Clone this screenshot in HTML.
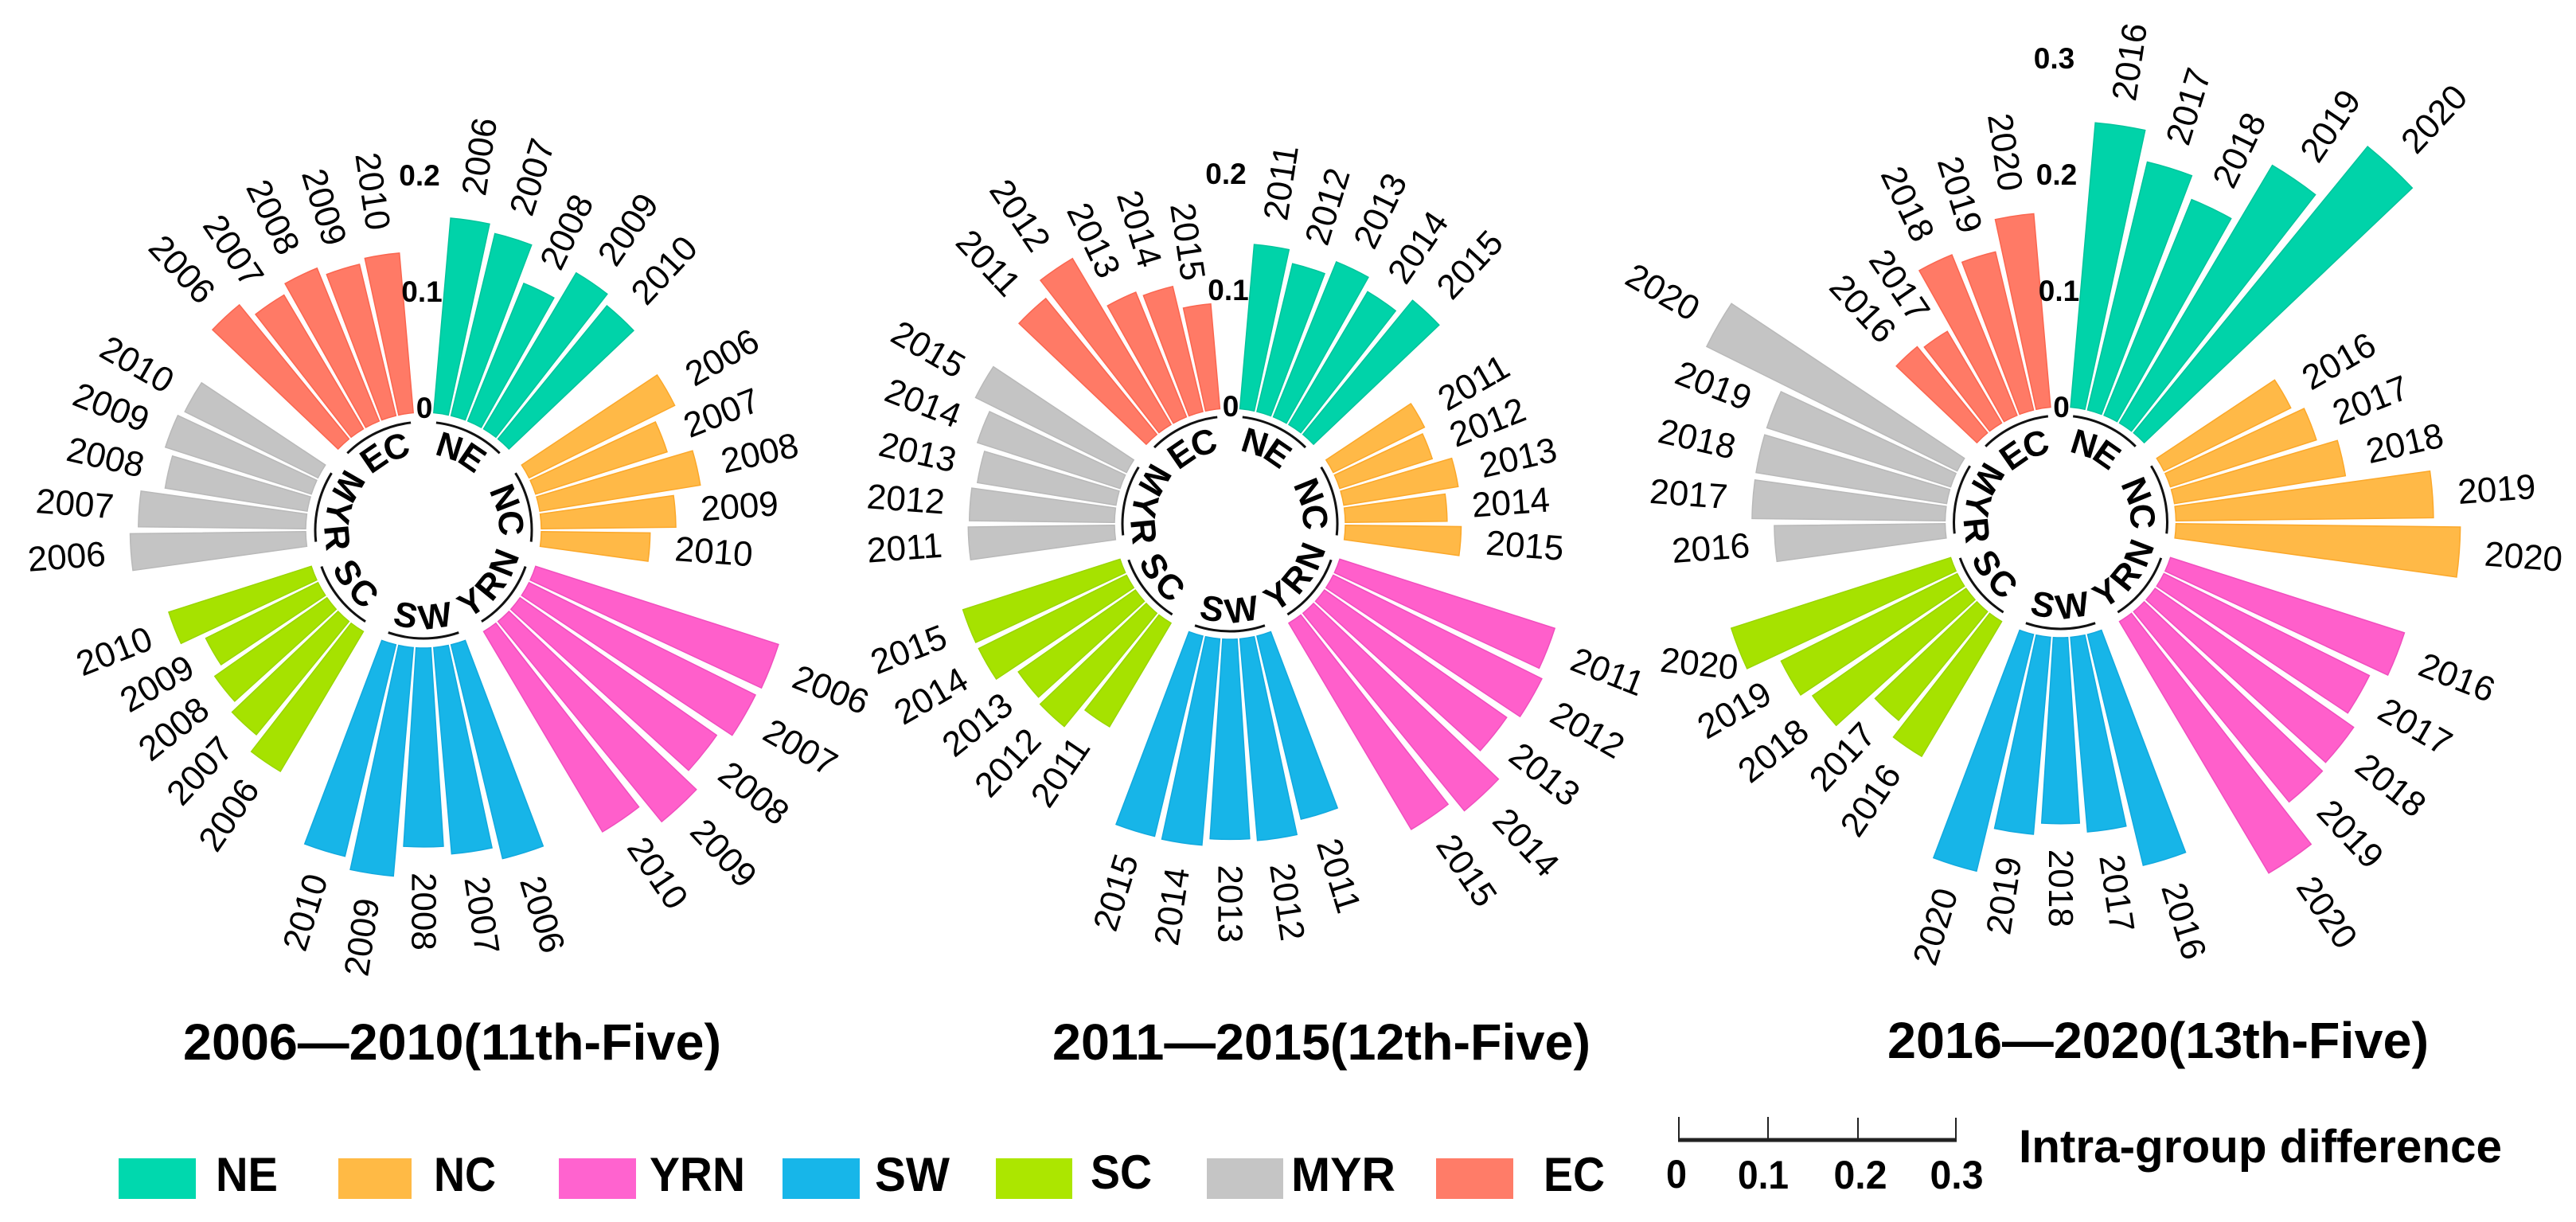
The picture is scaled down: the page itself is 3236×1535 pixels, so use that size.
<!DOCTYPE html>
<html lang="en">
<head>
<meta charset="utf-8">
<title>Intra-group difference by region, 2006–2020</title>
<style>
html,body{margin:0;padding:0;background:#fff;}
svg{display:block;font-family:"Liberation Sans",sans-serif;}
.bold{font-weight:700;}
</style>
</head>
<body>
<svg id="chart" xmlns="http://www.w3.org/2000/svg" width="3236" height="1535" viewBox="0 0 3236 1535">
  <rect x="0" y="0" width="3236" height="1535" fill="#fff"/>
  <defs id="chart-defs"></defs>
  <g id="panels"></g>

  <text class="bold" x="230" y="1331" font-size="64" textLength="676" lengthAdjust="spacingAndGlyphs">2006—2010(11th-Five)</text>
  <text class="bold" x="1322" y="1331" font-size="64" textLength="676" lengthAdjust="spacingAndGlyphs">2011—2015(12th-Five)</text>
  <text class="bold" x="2371" y="1329" font-size="64" textLength="680" lengthAdjust="spacingAndGlyphs">2016—2020(13th-Five)</text>

  <g>
    <rect x="149" y="1455" width="97" height="51" fill="#00D8AE"/>
    <text class="bold" x="271" y="1496" font-size="60" textLength="78" lengthAdjust="spacingAndGlyphs">NE</text>
    <rect x="425" y="1455" width="92" height="51" fill="#FFBA45"/>
    <text class="bold" x="545" y="1496" font-size="60" textLength="78" lengthAdjust="spacingAndGlyphs">NC</text>
    <rect x="702" y="1455" width="97" height="51" fill="#FF63CF"/>
    <text class="bold" x="816" y="1496" font-size="60" textLength="120" lengthAdjust="spacingAndGlyphs">YRN</text>
    <rect x="983" y="1455" width="97" height="51" fill="#17B6E9"/>
    <text class="bold" x="1099" y="1496" font-size="60" textLength="94" lengthAdjust="spacingAndGlyphs">SW</text>
    <rect x="1251" y="1455" width="96" height="51" fill="#ACE600"/>
    <text class="bold" x="1370" y="1493" font-size="60" textLength="77" lengthAdjust="spacingAndGlyphs">SC</text>
    <rect x="1516" y="1455" width="96" height="51" fill="#C5C5C5"/>
    <text class="bold" x="1622" y="1496" font-size="60" textLength="131" lengthAdjust="spacingAndGlyphs">MYR</text>
    <rect x="1804" y="1455" width="97" height="51" fill="#FF7C68"/>
    <text class="bold" x="1939" y="1496" font-size="60" textLength="77" lengthAdjust="spacingAndGlyphs">EC</text>
  </g>

  <g>
    <line x1="2108" y1="1432" x2="2458" y2="1432" stroke="#222" stroke-width="5"/>
    <line x1="2109" y1="1403" x2="2109" y2="1432" stroke="#222" stroke-width="2"/>
    <line x1="2221" y1="1403" x2="2221" y2="1432" stroke="#222" stroke-width="2"/>
    <line x1="2334" y1="1404" x2="2334" y2="1432" stroke="#222" stroke-width="2"/>
    <line x1="2457" y1="1404" x2="2457" y2="1432" stroke="#222" stroke-width="2"/>
    <text class="bold" x="2106" y="1492" font-size="50" text-anchor="middle" textLength="26" lengthAdjust="spacingAndGlyphs">0</text>
    <text class="bold" x="2215" y="1493" font-size="50" text-anchor="middle" textLength="64" lengthAdjust="spacingAndGlyphs">0.1</text>
    <text class="bold" x="2337" y="1493" font-size="50" text-anchor="middle" textLength="67" lengthAdjust="spacingAndGlyphs">0.2</text>
    <text class="bold" x="2458" y="1493" font-size="50" text-anchor="middle" textLength="67" lengthAdjust="spacingAndGlyphs">0.3</text>
    <text class="bold" x="2536" y="1460" font-size="58" textLength="607" lengthAdjust="spacingAndGlyphs">Intra-group difference</text>
  </g>
</svg>

<script>
// Categories
const regions = ['NE', 'NC', 'YRN', 'SW', 'SC', 'MYR', 'EC'];
const years11th = ['2006', '2007', '2008', '2009', '2010'];
const years12th = ['2011', '2012', '2013', '2014', '2015'];
const years13th = ['2016', '2017', '2018', '2019', '2020'];

// 11th Five-Year period values
const p11NE = [0.167, 0.160, 0.127, 0.155, 0.147];
const p11NC = [0.139, 0.118, 0.139, 0.115, 0.093];
const p11YRN = [0.218, 0.216, 0.205, 0.221, 0.199];
const p11SW = [0.188, 0.177, 0.170, 0.196, 0.186];
const p11SC = [0.139, 0.125, 0.117, 0.107, 0.128];
const p11MYR = [0.150, 0.143, 0.123, 0.131, 0.127];
const p11EC = [0.148, 0.133, 0.141, 0.133, 0.137];

// 12th Five-Year period values
const p12NE = [0.141, 0.130, 0.143, 0.132, 0.148];
const p12NC = [0.087, 0.083, 0.099, 0.087, 0.099];
const p12YRN = [0.193, 0.199, 0.190, 0.218, 0.205];
const p12SW = [0.161, 0.173, 0.171, 0.177, 0.176];
const p12SC = [0.103, 0.125, 0.122, 0.141, 0.141];
const p12MYR = [0.125, 0.124, 0.120, 0.128, 0.144];
const p12EC = [0.150, 0.165, 0.115, 0.110, 0.090];

// 13th Five-Year period values
const p13NE = [0.244, 0.218, 0.199, 0.256, 0.316];
const p13NC = [0.121, 0.131, 0.148, 0.220, 0.243];
const p13YRN = [0.210, 0.196, 0.207, 0.210, 0.250];
const p13SW = [0.203, 0.167, 0.159, 0.169, 0.208];
const p13SC = [0.134, 0.120, 0.160, 0.168, 0.197];
const p13MYR = [0.146, 0.165, 0.165, 0.165, 0.239];
const p13EC = [0.095, 0.091, 0.148, 0.139, 0.166];

// Tick labels
const ticks11th = [0, 0.1, 0.2];
const ticks12th = [0, 0.1, 0.2];
const ticks13th = [0, 0.1, 0.2, 0.3];

const regionFill = ['#00D3A9', '#FFB947', '#FF5FCB', '#17B5E8', '#A6E200', '#C4C4C4', '#FF7A66'];
const regionEdge = ['#00C49C', '#FBA82A', '#F04FBE', '#12A9DE', '#9AD600', '#B9B9B9', '#FA6650'];

const panelSeries = [
  { id: 'p11', years: years11th, ticks: ticks11th, cx: 532, cy: 666, r0: 148, tickLift: 6, arcR: 136, outerLabelR: 111, innerLabelR: 108,
    values: [p11NE, p11NC, p11YRN, p11SW, p11SC, p11MYR, p11EC] },
  { id: 'p12', years: years12th, ticks: ticks12th, cx: 1545, cy: 658, r0: 145, tickLift: 3, arcR: 135, outerLabelR: 108, innerLabelR: 108,
    values: [p12NE, p12NC, p12YRN, p12SW, p12SC, p12MYR, p12EC] },
  { id: 'p13', years: years13th, ticks: ticks13th, cx: 2588.5, cy: 656, r0: 145, tickLift: 0, arcR: 134, outerLabelR: 104, innerLabelR: 105,
    values: [p13NE, p13NC, p13YRN, p13SW, p13SC, p13MYR, p13EC] }
];

const NS = 'http://www.w3.org/2000/svg';
const PX_PER_UNIT = 1470;
const TICK_PX_PER_UNIT = 1460;
const SLOT = 360 / 42;
const BAR_HALF = 3.6;
const LABEL_GAP = 81;
const ARC_HALF = 19;
// The one year label that was placed by hand in the original figure.
const labelTweaks = { 'p13-SC-2020': { gap: 53, rot: 6 } };
const root = document.getElementById('panels');
const defs = document.getElementById('chart-defs');

function make(tag, attrs, parent) {
  const el = document.createElementNS(NS, tag);
  for (const k in attrs) el.setAttribute(k, attrs[k]);
  parent.appendChild(el);
  return el;
}
function polar(p, r, deg) {
  const a = deg * Math.PI / 180;
  return [p.cx + r * Math.sin(a), p.cy - r * Math.cos(a)];
}
function radius(p, v) { return p.r0 + v * PX_PER_UNIT; }
function barAngle(g, i) { return (g * 6 + i + 1) * SLOT; }
function groupAngle(g) { return (g * 6 + 3) * SLOT; }
function f(n) { return n.toFixed(2); }

function wedge(p, r1, r2, a) {
  const i1 = polar(p, r1, a - BAR_HALF), i2 = polar(p, r1, a + BAR_HALF);
  const o1 = polar(p, r2, a - BAR_HALF), o2 = polar(p, r2, a + BAR_HALF);
  return 'M' + f(i1[0]) + ' ' + f(i1[1]) + 'L' + f(o1[0]) + ' ' + f(o1[1]) +
    'A' + f(r2) + ' ' + f(r2) + ' 0 0 1 ' + f(o2[0]) + ' ' + f(o2[1]) +
    'L' + f(i2[0]) + ' ' + f(i2[1]) +
    'A' + f(r1) + ' ' + f(r1) + ' 0 0 0 ' + f(i1[0]) + ' ' + f(i1[1]) + 'Z';
}
function arcPath(p, r, from, to) {
  const s = polar(p, r, from), e = polar(p, r, to);
  const sweep = to > from ? 1 : 0;
  return 'M' + f(s[0]) + ' ' + f(s[1]) + 'A' + r + ' ' + r + ' 0 0 ' + sweep + ' ' + f(e[0]) + ' ' + f(e[1]);
}

panelSeries.forEach(function (p) {
  const panel = make('g', {}, root);
  
  

  regions.forEach(function (region, g) {
    const key = region.toLowerCase();
    p.values[g].forEach(function (v, i) {
      const a = barAngle(g, i);
      const r2 = radius(p, v);
      const bar = make('path', {
        d: wedge(p, p.r0, r2, a),
        fill: regionFill[g],
        stroke: regionEdge[g],
        'stroke-width': 1.5
      }, panel);
      
      

      const tweak = labelTweaks[p.id + '-' + region + '-' + p.years[i]] || {};
      const gap = tweak.gap !== undefined ? tweak.gap : LABEL_GAP;
      const pos = polar(p, r2 + gap, a);
      const rot = tweak.rot !== undefined ? tweak.rot : (a <= 180 ? a - 90 : a + 90);
      const label = make('text', {
        x: f(pos[0]), y: f(pos[1]),
        'font-size': 44,
        'text-anchor': 'middle',
        'dominant-baseline': 'central',
        transform: 'rotate(' + f(rot) + ' ' + f(pos[0]) + ' ' + f(pos[1]) + ')'
      }, panel);
      label.textContent = p.years[i];
      
      
    });

    const c = groupAngle(g);
    const arc = make('path', {
      d: arcPath(p, p.arcR, c - ARC_HALF, c + ARC_HALF),
      fill: 'none', stroke: '#111', 'stroke-width': 3
    }, panel);
    
    

    const outward = region === 'NE' || region === 'NC' || region === 'EC';
    const pid = p.id + '-path-' + key;
    const d = outward ? arcPath(p, p.outerLabelR, c - 80, c + 80) : arcPath(p, p.innerLabelR, c + 80, c - 80);
    make('path', { id: pid, d: d }, defs);
    const txt = make('text', { 'font-size': 44, 'font-weight': 700, 'text-anchor': 'middle', 'letter-spacing': 1.5 }, panel);
    
    
    const tp = make('textPath', { href: '#' + pid, startOffset: '50%' }, txt);
    const span = make('tspan', { dy: 16 }, tp);
    span.textContent = region;
  });

  p.ticks.forEach(function (t) {
    const tick = make('text', {
      x: f(p.cx + 1 - t * 30),
      y: f(p.cy - p.r0 - t * TICK_PX_PER_UNIT - p.tickLift + 13),
      'font-size': 37,
      'font-weight': 700,
      'text-anchor': 'middle'
    }, panel);
    tick.textContent = String(t);
    
    
  });
});
</script>
</body>
</html>
